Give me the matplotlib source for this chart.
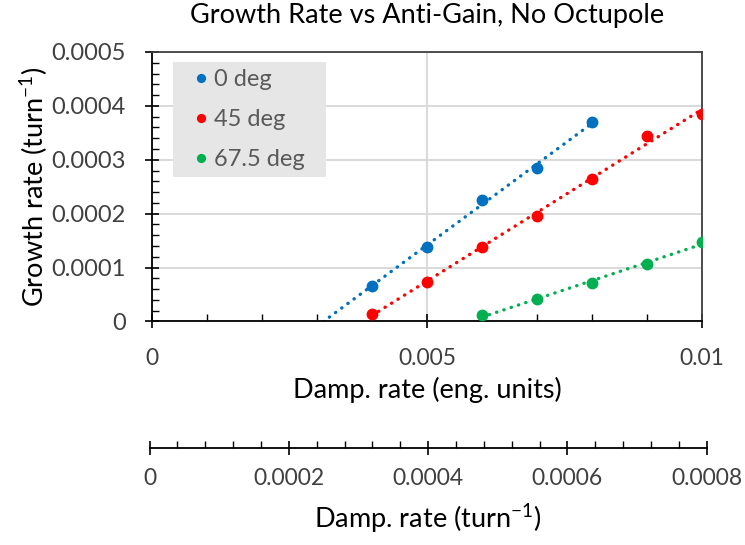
import matplotlib
import matplotlib.pyplot as plt
import numpy as np
from matplotlib.patches import Rectangle
from matplotlib.ticker import MultipleLocator, FixedLocator, FixedFormatter

matplotlib.use("Agg")

plt.rcParams["font.family"] = ["Lato", "DejaVu Sans"]
plt.rcParams["mathtext.default"] = "regular"

# Damping rate (eng. units) and growth rate (turn^-1) per phase setting
x_0deg = [0.004, 0.005, 0.006, 0.007, 0.008]
y_0deg = [6.65e-5, 1.38e-4, 2.26e-4, 2.84e-4, 3.70e-4]

x_45deg = [0.004, 0.005, 0.006, 0.007, 0.008, 0.009, 0.010]
y_45deg = [1.3e-5, 7.4e-5, 1.38e-4, 1.96e-4, 2.65e-4, 3.45e-4, 3.85e-4]

x_675deg = [0.006, 0.007, 0.008, 0.009, 0.010]
y_675deg = [1.1e-5, 4.1e-5, 7.2e-5, 1.07e-4, 1.47e-4]

labels = ["0 deg", "45 deg", "67.5 deg"]
colors = ["#0070C0", "#FF0000", "#00B050"]
# trendline start (backward forecast for the 0 deg series)
trend_start = [0.003, 0.004, 0.006]

x_ticks = [0, 0.005, 0.01]
x_ticklabels = ["0", "0.005", "0.01"]
y_ticks = [0, 0.0001, 0.0002, 0.0003, 0.0004, 0.0005]
y_ticklabels = ["0", "0.0001", "0.0002", "0.0003", "0.0004", "0.0005"]
x2_ticks = [0, 0.0002, 0.0004, 0.0006, 0.0008]
x2_ticklabels = ["0", "0.0002", "0.0004", "0.0006", "0.0008"]

TEXT = "#404040"
GRID = "#d9d9d9"
TICK_FS = 16.5
LABEL_FS = 19.5

fig = plt.figure(figsize=(7.45, 5.45), dpi=100)
ax = fig.add_axes((152 / 745, 1 - 321.4 / 545, 550 / 745, 269.4 / 545))

series = [(x_0deg, y_0deg), (x_45deg, y_45deg), (x_675deg, y_675deg)]
for (xs, ys), lab, col, x0 in zip(series, labels, colors, trend_start):
    xs = np.asarray(xs)
    ys = np.asarray(ys)
    k, b = np.polyfit(xs, ys, 1)
    xt = np.array([x0, xs.max()])
    ax.plot(xt, k * xt + b, color=col, lw=2.4, ls=(0, (0.1, 2.2)),
            dash_capstyle="round", zorder=2)
    ax.plot(xs, ys, "o", color=col, ms=7.5, label=lab, zorder=3)

ax.set_xlim(0, 0.01)
ax.set_ylim(0, 0.0005)
ax.xaxis.set_major_locator(FixedLocator(x_ticks))
ax.xaxis.set_major_formatter(FixedFormatter(x_ticklabels))
ax.xaxis.set_minor_locator(MultipleLocator(0.001))
ax.yaxis.set_major_locator(FixedLocator(y_ticks))
ax.yaxis.set_major_formatter(FixedFormatter(y_ticklabels))
ax.yaxis.set_minor_locator(MultipleLocator(0.00002))

ax.grid(True, which="major", color=GRID, lw=1.4, zorder=0)
ax.set_axisbelow(True)
ax.tick_params(which="major", direction="inout", length=10, width=1.2,
               color="#000000", labelsize=TICK_FS, labelcolor=TEXT)
ax.tick_params(which="minor", direction="in", length=5, width=1.0, color="#000000")
ax.tick_params(axis="x", which="major", pad=14)
ax.tick_params(axis="y", which="major", pad=14, labelsize=17)
for s in ax.spines.values():
    s.set_color("#000000")
    s.set_linewidth(1.3)
ax.spines["top"].set_color("#404040")
ax.spines["right"].set_color("#404040")

ax.set_xlabel("Damp. rate (eng. units)", fontsize=LABEL_FS, color="#000000", labelpad=6)
ax.set_ylabel("Growth rate (turn$^{-1}$)", fontsize=LABEL_FS, color="#000000", labelpad=1)
ax.set_title("Growth Rate vs Anti-Gain, No Octupole", fontsize=LABEL_FS,
             color="#000000", pad=21)

# legend background panel
ax.add_patch(Rectangle((173 / 745, 1 - 177 / 545), 153 / 745, 115 / 545,
                       transform=fig.transFigure, facecolor="#e6e6e6",
                       edgecolor="none", zorder=4, clip_on=False))
leg = ax.legend(loc="center left", bbox_to_anchor=(194 / 745, 1 - 119.5 / 545),
                bbox_transform=fig.transFigure, borderaxespad=0, borderpad=0,
                fontsize=17, frameon=False, handlelength=0.6,
                handletextpad=0.25, labelspacing=0.8, markerscale=0.75)
leg.set_zorder(5)
for t in leg.get_texts():
    t.set_color("#595959")

# secondary damping-rate scale in turn^-1
ax2 = fig.add_axes((149.6 / 745, 1 - 447.5 / 545, 557 / 745, 0.001))
ax2.set_xlim(0, 0.0008)
ax2.set_yticks([])
ax2.patch.set_visible(False)
for name in ("top", "left", "right"):
    ax2.spines[name].set_visible(False)
ax2.spines["bottom"].set_linewidth(1.3)
ax2.xaxis.set_major_locator(FixedLocator(x2_ticks))
ax2.xaxis.set_major_formatter(FixedFormatter(x2_ticklabels))
ax2.xaxis.set_minor_locator(MultipleLocator(0.00004))
ax2.tick_params(which="major", direction="inout", length=10, width=1.2,
                labelsize=TICK_FS, labelcolor=TEXT, pad=10)
ax2.tick_params(which="minor", direction="in", length=5, width=1.0)
ax2.set_xlabel("Damp. rate (turn$^{-1}$)", fontsize=LABEL_FS, color="#000000", labelpad=9)

fig.savefig("out.png", dpi=100)
